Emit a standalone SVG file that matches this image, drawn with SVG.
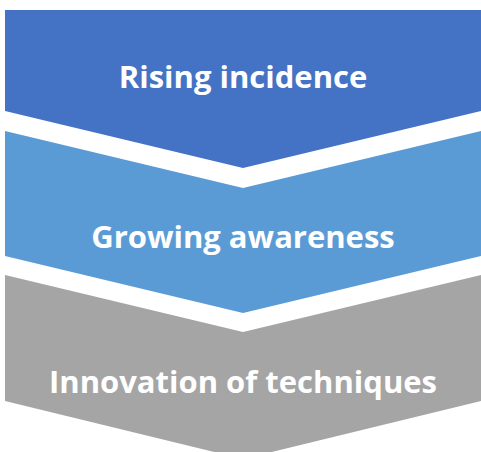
<svg xmlns="http://www.w3.org/2000/svg" width="481" height="452" viewBox="0 0 481 452">
<style>
.lbl{font-family:"Open Sans","Liberation Sans",sans-serif;font-weight:bold;font-size:31px;fill:#fff;text-anchor:middle}
</style>
<rect width="481" height="452" fill="#fff"/>
<g id="node1">
<polygon points="5,10 481,10 481,111 243,168 5,111" fill="#4472C4"/>
<text class="lbl" x="243" y="88">Rising incidence</text>
</g>
<g id="node2">
<polygon points="5,131 243,188 481,131 481,256 243,313 5,256" fill="#5B9BD5"/>
<text class="lbl" x="243" y="248">Growing awareness</text>
</g>
<g id="node3">
<polygon points="5,275 243,332 481,275 481,401 243,459 5,401" fill="#A5A5A5"/>
<text class="lbl" x="243" y="393">Innovation of techniques</text>
</g>
<g id="connectors"></g>
</svg>
